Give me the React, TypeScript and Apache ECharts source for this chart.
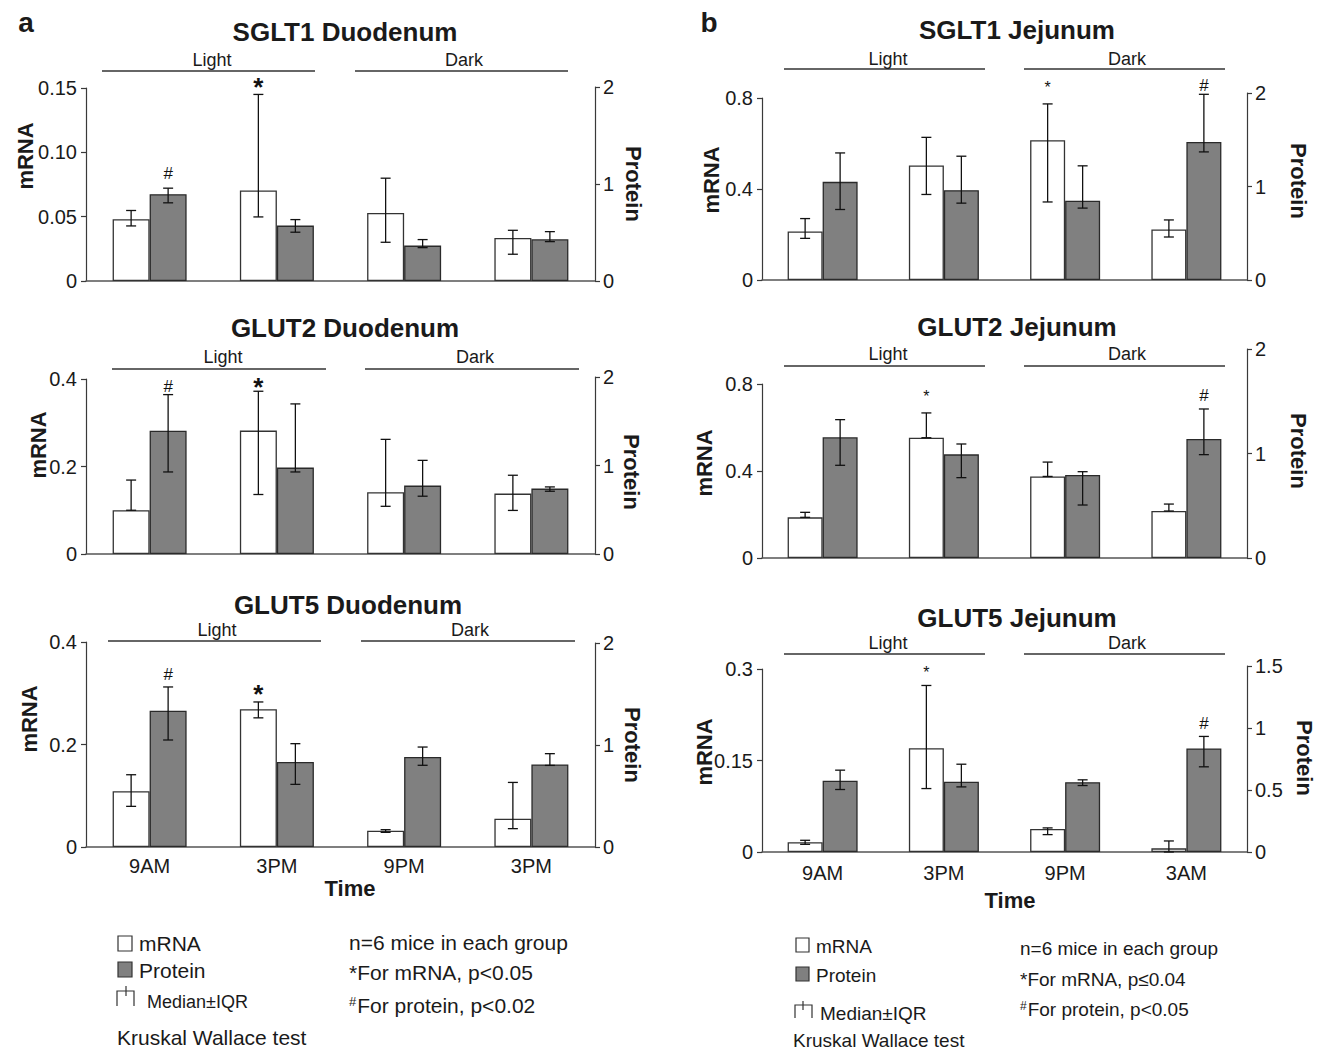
import React, { useEffect, useRef } from "react";
import * as echarts from "echarts";

const FONT = '"Liberation Sans", Arial, Helvetica, sans-serif';

// ---------- categories ----------
const timesDuodenum = ["9AM", "3PM", "9PM", "3PM"];
const timesJejunum = ["9AM", "3PM", "9PM", "3AM"];

// ---------- tick labels ----------
const ticksSmallMrna = ["0", "0.05", "0.10", "0.15"];
const ticks04 = ["0", "0.2", "0.4"];
const ticks08 = ["0", "0.4", "0.8"];
const ticks03 = ["0", "0.15", "0.3"];
const ticksProt2 = ["0", "1", "2"];
const ticksProt15 = ["0", "0.5", "1", "1.5"];

// ---------- SGLT1 Duodenum ----------
const sglt1DuoMrna = [0.048, 0.0703, 0.0529, 0.0335];
const sglt1DuoMrnaHi = [0.0548, 0.145, 0.0799, 0.0394];
const sglt1DuoMrnaLo = [0.0428, 0.0498, 0.0301, 0.0208];
const sglt1DuoProt = [0.895, 0.571, 0.365, 0.43];
const sglt1DuoProtHi = [0.957, 0.633, 0.427, 0.509];
const sglt1DuoProtLo = [0.806, 0.503, 0.344, 0.406];

// ---------- GLUT2 Duodenum ----------
const glut2DuoMrna = [0.1, 0.282, 0.141, 0.138];
const glut2DuoMrnaHi = [0.169, 0.372, 0.262, 0.18];
const glut2DuoMrnaLo = [0.1, 0.136, 0.109, 0.0996];
const glut2DuoProt = [1.392, 0.976, 0.773, 0.739];
const glut2DuoProtHi = [1.801, 1.696, 1.058, 0.758];
const glut2DuoProtLo = [0.927, 0.927, 0.653, 0.709];

// ---------- GLUT5 Duodenum ----------
const glut5DuoMrna = [0.109, 0.269, 0.0319, 0.0553];
const glut5DuoMrnaHi = [0.141, 0.283, 0.0338, 0.126];
const glut5DuoMrnaLo = [0.0793, 0.252, 0.0286, 0.0358];
const glut5DuoProt = [1.337, 0.833, 0.882, 0.81];
const glut5DuoProtHi = [1.569, 1.013, 0.98, 0.915];
const glut5DuoProtLo = [1.049, 0.614, 0.801, 0.8];

// ---------- SGLT1 Jejunum ----------
const sglt1JejMrna = [0.213, 0.503, 0.614, 0.222];
const sglt1JejMrnaHi = [0.27, 0.627, 0.774, 0.264];
const sglt1JejMrnaLo = [0.183, 0.376, 0.343, 0.189];
const sglt1JejProt = [1.05, 0.961, 0.847, 1.477];
const sglt1JejProtHi = [1.359, 1.324, 1.221, 1.986];
const sglt1JejProtLo = [0.754, 0.822, 0.769, 1.37];

// ---------- GLUT2 Jejunum ----------
const glut2JejMrna = [0.187, 0.553, 0.375, 0.216];
const glut2JejMrnaHi = [0.21, 0.667, 0.441, 0.248];
const glut2JejMrnaLo = [0.187, 0.553, 0.375, 0.216];
const glut2JejProt = [1.155, 0.992, 0.794, 1.139];
const glut2JejProtHi = [1.324, 1.091, 0.826, 1.426];
const glut2JejProtLo = [0.887, 0.769, 0.507, 0.989];

// ---------- GLUT5 Jejunum ----------
const glut5JejMrna = [0.0159, 0.17, 0.0378, 0.006];
const glut5JejMrnaHi = [0.0192, 0.273, 0.0395, 0.0181];
const glut5JejMrnaLo = [0.0126, 0.104, 0.0285, 0.0];
const glut5JejProt = [0.574, 0.566, 0.563, 0.835];
const glut5JejProtHi = [0.66, 0.708, 0.582, 0.932];
const glut5JejProtLo = [0.504, 0.525, 0.536, 0.687];

// ---------- significance marks ----------
const marksDuoMrna = ["", "*", "", ""];
const marksDuoProt = ["#", "", "", ""];
const marksSglt1JejMrna = ["", "", "*", ""];
const marksJejMrna = ["", "*", "", ""];
const marksJejProt = ["", "", "", "#"];

type Layout = {
  gl: number; gr: number; topA: number; topB: number; base: number;
  titleX: number; titleY: number; lineY: number; textY: number;
  light: number[]; dark: number[]; lightX: number; darkX: number;
  mrnaX: number; mrnaY: number; protX: number; protY: number;
  barW: number; showX: boolean; labelMargin: number;
  starSize: number; starBold: boolean; offStar: number; offHash: number;
};

const panels: any[] = [
  {
    title: "SGLT1 Duodenum", cats: timesDuodenum,
    mrna: sglt1DuoMrna, mrnaHi: sglt1DuoMrnaHi, mrnaLo: sglt1DuoMrnaLo,
    prot: sglt1DuoProt, protHi: sglt1DuoProtHi, protLo: sglt1DuoProtLo,
    mMarks: marksDuoMrna, pMarks: marksDuoProt,
    lMax: 0.15, lStep: 0.05, lLabels: ticksSmallMrna, rMax: 2, rStep: 1, rLabels: ticksProt2,
    L: { gl: 86, gr: 595, topA: 88, topB: 87, base: 281, titleX: 345, titleY: 32, lineY: 71, textY: 60,
      light: [102, 315], dark: [355, 568], lightX: 212, darkX: 464, mrnaX: 25, mrnaY: 156, protX: 633, protY: 184,
      barW: 37, showX: false, labelMargin: 9, starSize: 26, starBold: true, offStar: 7, offHash: 15 } as Layout,
  },
  {
    title: "GLUT2 Duodenum", cats: timesDuodenum,
    mrna: glut2DuoMrna, mrnaHi: glut2DuoMrnaHi, mrnaLo: glut2DuoMrnaLo,
    prot: glut2DuoProt, protHi: glut2DuoProtHi, protLo: glut2DuoProtLo,
    mMarks: marksDuoMrna, pMarks: marksDuoProt,
    lMax: 0.4, lStep: 0.2, lLabels: ticks04, rMax: 2, rStep: 1, rLabels: ticksProt2,
    L: { gl: 86, gr: 595, topA: 379, topB: 377, base: 554, titleX: 345, titleY: 328, lineY: 369, textY: 357,
      light: [112, 326], dark: [365, 579], lightX: 223, darkX: 475, mrnaX: 38, mrnaY: 445, protX: 631, protY: 472,
      barW: 37, showX: false, labelMargin: 9, starSize: 26, starBold: true, offStar: 4, offHash: 8 } as Layout,
  },
  {
    title: "GLUT5 Duodenum", cats: timesDuodenum,
    mrna: glut5DuoMrna, mrnaHi: glut5DuoMrnaHi, mrnaLo: glut5DuoMrnaLo,
    prot: glut5DuoProt, protHi: glut5DuoProtHi, protLo: glut5DuoProtLo,
    mMarks: marksDuoMrna, pMarks: marksDuoProt,
    lMax: 0.4, lStep: 0.2, lLabels: ticks04, rMax: 2, rStep: 1, rLabels: ticksProt2,
    L: { gl: 86, gr: 595, topA: 642, topB: 643, base: 847, titleX: 348, titleY: 605, lineY: 641, textY: 630,
      light: [108, 321], dark: [361, 575], lightX: 217, darkX: 470, mrnaX: 29, mrnaY: 719, protX: 632, protY: 745,
      barW: 37, showX: true, labelMargin: 9, starSize: 26, starBold: true, offStar: 8, offHash: 12 } as Layout,
  },
  {
    title: "SGLT1 Jejunum", cats: timesJejunum,
    mrna: sglt1JejMrna, mrnaHi: sglt1JejMrnaHi, mrnaLo: sglt1JejMrnaLo,
    prot: sglt1JejProt, protHi: sglt1JejProtHi, protLo: sglt1JejProtLo,
    mMarks: marksSglt1JejMrna, pMarks: marksJejProt,
    lMax: 0.8, lStep: 0.4, lLabels: ticks08, rMax: 2, rStep: 1, rLabels: ticksProt2,
    L: { gl: 762, gr: 1247, topA: 98, topB: 93, base: 280, titleX: 1017, titleY: 30, lineY: 69, textY: 59,
      light: [784, 985], dark: [1024, 1225], lightX: 888, darkX: 1127, mrnaX: 711, mrnaY: 180, protX: 1298, protY: 181,
      barW: 35, showX: false, labelMargin: 11, starSize: 16, starBold: false, offStar: 16, offHash: 9 } as Layout,
  },
  {
    title: "GLUT2 Jejunum", cats: timesJejunum,
    mrna: glut2JejMrna, mrnaHi: glut2JejMrnaHi, mrnaLo: glut2JejMrnaLo,
    prot: glut2JejProt, protHi: glut2JejProtHi, protLo: glut2JejProtLo,
    mMarks: marksJejMrna, pMarks: marksJejProt,
    lMax: 0.8, lStep: 0.4, lLabels: ticks08, rMax: 2, rStep: 1, rLabels: ticksProt2,
    L: { gl: 762, gr: 1247, topA: 384, topB: 349, base: 558, titleX: 1017, titleY: 327, lineY: 366, textY: 354,
      light: [784, 985], dark: [1024, 1225], lightX: 888, darkX: 1127, mrnaX: 704, mrnaY: 463, protX: 1298, protY: 451,
      barW: 35, showX: false, labelMargin: 11, starSize: 16, starBold: false, offStar: 16, offHash: 13 } as Layout,
  },
  {
    title: "GLUT5 Jejunum", cats: timesJejunum,
    mrna: glut5JejMrna, mrnaHi: glut5JejMrnaHi, mrnaLo: glut5JejMrnaLo,
    prot: glut5JejProt, protHi: glut5JejProtHi, protLo: glut5JejProtLo,
    mMarks: marksJejMrna, pMarks: marksJejProt,
    lMax: 0.3, lStep: 0.15, lLabels: ticks03, rMax: 1.5, rStep: 0.5, rLabels: ticksProt15,
    L: { gl: 762, gr: 1247, topA: 669, topB: 666, base: 852, titleX: 1017, titleY: 618, lineY: 654, textY: 643,
      light: [784, 985], dark: [1024, 1225], lightX: 888, darkX: 1127, mrnaX: 704, mrnaY: 752, protX: 1304, protY: 758,
      barW: 35, showX: true, labelMargin: 11, starSize: 16, starBold: false, offStar: 13, offHash: 13 } as Layout,
  },
];

const AXIS_COLOR = "#3a3a3a";
const TEXT_COLOR = "#1a1a1a";

function errSeries(gridIdx: number, hi: number[], lo: number[], marks: string[], side: number, L: Layout) {
  return {
    type: "custom",
    xAxisIndex: gridIdx,
    yAxisIndex: gridIdx,
    z: 10,
    silent: true,
    data: hi.map((h, i) => [i, h, lo[i]]),
    renderItem: (params: any, api: any) => {
      const i = api.value(0);
      const top = api.coord([i, api.value(1)]);
      const bot = api.coord([i, api.value(2)]);
      const x = top[0] + (side * L.barW) / 2;
      const c = 5;
      const ls = { stroke: "#111", lineWidth: 1.3 };
      const children: any[] = [
        { type: "line", shape: { x1: x, y1: top[1], x2: x, y2: bot[1] }, style: ls },
        { type: "line", shape: { x1: x - c, y1: top[1], x2: x + c, y2: top[1] }, style: ls },
        { type: "line", shape: { x1: x - c, y1: bot[1], x2: x + c, y2: bot[1] }, style: ls },
      ];
      const m = marks[params.dataIndex];
      if (m) {
        const isStar = m === "*";
        children.push({
          type: "text",
          x,
          y: top[1] - (isStar ? L.offStar : L.offHash),
          style: {
            text: m,
            fill: "#111",
            fontFamily: FONT,
            fontSize: isStar ? L.starSize : 17,
            fontWeight: isStar && L.starBold ? "bold" : "normal",
            align: "center",
            verticalAlign: "middle",
          },
        });
      }
      return { type: "group", children };
    },
  };
}

function txt(text: string, x: number, y: number, size: number, opts: any = {}) {
  return {
    type: "text",
    x,
    y,
    rotation: opts.rotation || 0,
    silent: true,
    style: {
      text,
      fill: TEXT_COLOR,
      fontFamily: FONT,
      fontSize: size,
      fontWeight: opts.bold ? "bold" : "normal",
      align: opts.align || "center",
      verticalAlign: "middle",
      rich: opts.rich,
    },
  };
}

function buildOption() {
  const grid: any[] = [];
  const xAxis: any[] = [];
  const yAxis: any[] = [];
  const series: any[] = [];
  const graphic: any[] = [];

  panels.forEach((p, k) => {
    const L: Layout = p.L;
    const ga = 2 * k;
    const gb = 2 * k + 1;
    const w = L.gr - L.gl;
    grid.push({ left: L.gl, width: w, top: L.topA, height: L.base - L.topA });
    grid.push({ left: L.gl, width: w, top: L.topB, height: L.base - L.topB });

    xAxis.push({
      gridIndex: ga, type: "category", data: p.cats, boundaryGap: true,
      axisLine: { show: true, lineStyle: { color: "#555", width: 1.5 } },
      axisTick: { show: false },
      splitLine: { show: false },
      axisLabel: { show: L.showX, fontSize: 20, color: TEXT_COLOR, fontFamily: FONT, margin: L.labelMargin },
    });
    xAxis.push({ gridIndex: gb, type: "category", data: p.cats, show: false, boundaryGap: true });

    const axisCommon = {
      type: "value", min: 0,
      axisLine: { show: true, lineStyle: { color: AXIS_COLOR, width: 1.2 } },
      axisTick: { show: true, inside: false, length: 5, lineStyle: { color: AXIS_COLOR, width: 1.2 } },
      splitLine: { show: false },
    };
    yAxis.push({
      ...axisCommon, gridIndex: ga, position: "left", max: p.lMax, interval: p.lStep,
      axisLabel: {
        fontSize: 20, color: TEXT_COLOR, fontFamily: FONT, margin: 9,
        formatter: (v: number) => p.lLabels[Math.round(v / p.lStep)] ?? "",
      },
    });
    yAxis.push({
      ...axisCommon, gridIndex: gb, position: "right", max: p.rMax, interval: p.rStep,
      axisLabel: {
        fontSize: 20, color: TEXT_COLOR, fontFamily: FONT, margin: 8,
        formatter: (v: number) => p.rLabels[Math.round(v / p.rStep)] ?? "",
      },
    });

    series.push({
      type: "bar", name: "mRNA", xAxisIndex: ga, yAxisIndex: ga, data: p.mrna,
      barWidth: L.barW, barGap: "0%", silent: true,
      itemStyle: { color: "#ffffff", borderColor: "#333", borderWidth: 1.3 },
    });
    series.push({
      type: "bar", xAxisIndex: ga, yAxisIndex: ga, data: p.mrna.map(() => null),
      barWidth: L.barW, barGap: "0%", silent: true,
    });
    series.push({
      type: "bar", xAxisIndex: gb, yAxisIndex: gb, data: p.prot.map(() => null),
      barWidth: L.barW, barGap: "0%", silent: true,
    });
    series.push({
      type: "bar", name: "Protein", xAxisIndex: gb, yAxisIndex: gb, data: p.prot,
      barWidth: L.barW, barGap: "0%", silent: true,
      itemStyle: { color: "#808080", borderColor: "#2a2a2a", borderWidth: 1.3 },
    });
    series.push(errSeries(ga, p.mrnaHi, p.mrnaLo, p.mMarks, -1, L));
    series.push(errSeries(gb, p.protHi, p.protLo, p.pMarks, 1, L));

    // titles and annotations
    graphic.push(txt(p.title, L.titleX, L.titleY, 26, { bold: true }));
    graphic.push({ type: "line", silent: true, shape: { x1: L.light[0], y1: L.lineY, x2: L.light[1], y2: L.lineY }, style: { stroke: "#333", lineWidth: 1.3 } });
    graphic.push({ type: "line", silent: true, shape: { x1: L.dark[0], y1: L.lineY, x2: L.dark[1], y2: L.lineY }, style: { stroke: "#333", lineWidth: 1.3 } });
    graphic.push(txt("Light", L.lightX, L.textY, 18));
    graphic.push(txt("Dark", L.darkX, L.textY, 18));
    graphic.push(txt("mRNA", L.mrnaX, L.mrnaY, 22, { bold: true, rotation: Math.PI / 2 }));
    graphic.push(txt("Protein", L.protX, L.protY, 22, { bold: true, rotation: -Math.PI / 2 }));
  });

  // panel letters & Time
  graphic.push(txt("a", 26, 22, 28, { bold: true }));
  graphic.push(txt("b", 709, 22, 28, { bold: true }));
  graphic.push(txt("Time", 350, 888, 22, { bold: true }));
  graphic.push(txt("Time", 1010, 900, 22, { bold: true }));

  // legend a
  const supA = { s: { fontSize: 13, fontFamily: FONT, fill: TEXT_COLOR, verticalAlign: "top", padding: [0, 1, 8, 0] } };
  const supB = { s: { fontSize: 12, fontFamily: FONT, fill: TEXT_COLOR, verticalAlign: "top", padding: [0, 1, 7, 0] } };
  graphic.push({ type: "rect", silent: true, shape: { x: 118, y: 936, width: 14, height: 15 }, style: { fill: "#fff", stroke: "#333", lineWidth: 1.2 } });
  graphic.push(txt("mRNA", 139, 943, 21, { align: "left" }));
  graphic.push({ type: "rect", silent: true, shape: { x: 118, y: 962, width: 14, height: 15 }, style: { fill: "#808080", stroke: "#333", lineWidth: 1.2 } });
  graphic.push(txt("Protein", 139, 970, 21, { align: "left" }));
  graphic.push({ type: "polyline", silent: true, shape: { points: [[117, 1006], [117, 991], [134, 991], [134, 1006]] }, style: { stroke: "#333", lineWidth: 1.2, fill: "none" } });
  graphic.push({ type: "line", silent: true, shape: { x1: 126, y1: 986, x2: 126, y2: 996 }, style: { stroke: "#333", lineWidth: 1.2 } });
  graphic.push(txt("Median±IQR", 147, 1002, 18, { align: "left" }));
  graphic.push(txt("Kruskal Wallace test", 117, 1037, 21, { align: "left" }));
  graphic.push(txt("n=6 mice in each group", 349, 942, 21, { align: "left" }));
  graphic.push(txt("*For mRNA, p<0.05", 349, 972, 21, { align: "left" }));
  graphic.push(txt("{s|#}For protein, p<0.02", 349, 1005, 21, { align: "left", rich: supA }));

  // legend b
  graphic.push({ type: "rect", silent: true, shape: { x: 796, y: 938, width: 13, height: 14 }, style: { fill: "#fff", stroke: "#333", lineWidth: 1.2 } });
  graphic.push(txt("mRNA", 816, 946, 19, { align: "left" }));
  graphic.push({ type: "rect", silent: true, shape: { x: 796, y: 967, width: 13, height: 14 }, style: { fill: "#808080", stroke: "#333", lineWidth: 1.2 } });
  graphic.push(txt("Protein", 816, 975, 19, { align: "left" }));
  graphic.push({ type: "polyline", silent: true, shape: { points: [[795, 1018], [795, 1005], [812, 1005], [812, 1018]] }, style: { stroke: "#333", lineWidth: 1.2, fill: "none" } });
  graphic.push({ type: "line", silent: true, shape: { x1: 803, y1: 1001, x2: 803, y2: 1010 }, style: { stroke: "#333", lineWidth: 1.2 } });
  graphic.push(txt("Median±IQR", 820, 1013, 19, { align: "left" }));
  graphic.push(txt("Kruskal Wallace test", 793, 1040, 19, { align: "left" }));
  graphic.push(txt("n=6 mice in each group", 1020, 948, 19, { align: "left" }));
  graphic.push(txt("*For mRNA, p≤0.04", 1020, 979, 19, { align: "left" }));
  graphic.push(txt("{s|#}For protein, p<0.05", 1020, 1009, 19, { align: "left", rich: supB }));

  return {
    animation: false,
    backgroundColor: "#ffffff",
    textStyle: { fontFamily: FONT },
    grid,
    xAxis,
    yAxis,
    series,
    graphic: { elements: graphic },
  };
}

export default function App() {
  const ref = useRef<HTMLDivElement>(null);
  useEffect(() => {
    document.body.style.margin = "0";
    if (!ref.current) return;
    const chart = echarts.init(ref.current, null, { renderer: "svg" });
    chart.setOption(buildOption() as any);
    return () => chart.dispose();
  }, []);
  return <div ref={ref} style={{ width: 1330, height: 1050 }} />;
}
